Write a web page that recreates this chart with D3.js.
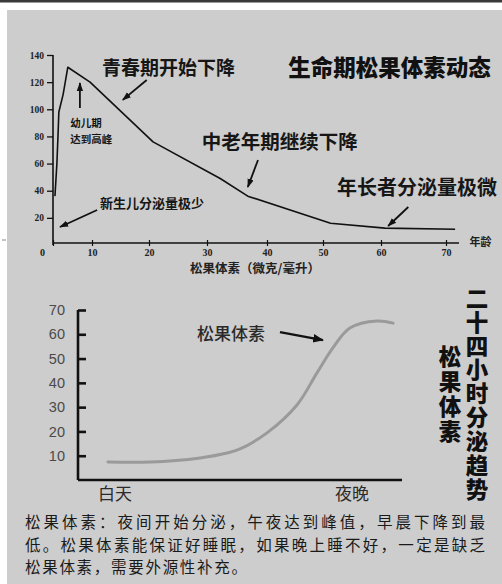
<!DOCTYPE html>
<html><head><meta charset="utf-8">
<script src="https://cdn.jsdelivr.net/npm/d3@7/dist/d3.min.js"></script>
<style>html,body{margin:0;padding:0;background:#fff;}svg{display:block;}</style>
</head><body>
<svg id="c" width="502" height="584"></svg>
<script>
// ---- Data: lifetime melatonin (top chart) ----
const lifeAges   = [0.5, 1.0, 1.3, 1.5, 2.6, 3.8, 9.5, 20.7, 32.2, 36.8, 51.3, 60.6, 71.4];
const lifeValues = [36, 60, 82, 98, 111, 131, 120, 76, 49, 36, 16, 12.4, 11.6];
const lifeXTicks = [0, 10, 20, 30, 40, 50, 60, 70];
const lifeYTicks = [20, 40, 60, 80, 100, 120, 140];
const lifeTitle  = "生命期松果体素动态";
const lifeXLabel = "松果体素（微克/毫升）";
const lifeXUnit  = "年龄";
const lifeNotes  = [
  {text: "青春期开始下降", age: 11.75, val: 129, size: 19},
  {text: "幼儿期", age: 4.4, val: 89, size: 10.5},
  {text: "达到高峰", age: 4.4, val: 77, size: 10.5},
  {text: "中老年期继续下降", age: 29.1, val: 74.4, size: 19.5},
  {text: "年长者分泌量极微", age: 52.4, val: 40.5, size: 20},
  {text: "新生儿分泌量极少", age: 11.4, val: 29.5, size: 13}
];
const lifeArrows = [
  {a0: 19.6, v0: 121.6, a1: 15.4, v1: 106.9},
  {a0: 6.9, v0: 101, a1: 6.9, v1: 119.4},
  {a0: 38.5, v0: 62.6, a1: 36.8, v1: 42.7},
  {a0: 64.2, v0: 28, a1: 61.1, v1: 14},
  {a0: 10.9, v0: 25.8, a1: 1.8, v1: 13.3}
];

// ---- Data: 24-hour secretion (bottom chart) ----
const dayTimes  = [1.11, 2.67, 4.52, 5.52, 6.0, 7.0, 8.11, 8.85, 9.44, 10.07, 11.07, 11.67];
const dayValues = [7.4, 7.4, 9.1, 11.1, 12.8, 19.4, 30.9, 44.1, 54.4, 62.6, 65.5, 64.6];
const dayYTicks = [10, 20, 30, 40, 50, 60, 70];
const dayXLabels = [{text: "白天", t: 1.37}, {text: "夜晚", t: 10.15}];
const dayNote   = {text: "松果体素", t: 4.41, v: 59.7};
const dayArrow  = {t0: 7.48, v0: 60.9, t1: 9.07, v1: 57.6};
const dayTitle1 = "二十四小时分泌趋势";
const dayTitle2 = "松果体素";
const footLines = [
  "松果体素：夜间开始分泌，午夜达到峰值，早晨下降到最",
  "低。松果体素能保证好睡眠，如果晚上睡不好，一定是缺乏",
  "松果体素，需要外源性补充。"
];

const svg = d3.select("#c");
const CJK = "'Noto Sans CJK SC','Noto Sans CJK JP',sans-serif";

// background
svg.append("rect").attr("x",0).attr("y",0).attr("width",502).attr("height",584).attr("fill","#fff");
svg.append("rect").attr("x",0).attr("y",0).attr("width",502).attr("height",2.5).attr("fill","#3a3a3a");
svg.append("rect").attr("x",7).attr("y",10).attr("width",495).attr("height",574).attr("fill","#cdcdcd");
svg.append("line").attr("x1",2).attr("x2",6).attr("y1",240).attr("y2",240).attr("stroke","#888").attr("stroke-width",1);

const defs = svg.append("defs");
defs.append("marker").attr("id","ah").attr("viewBox","0 0 10 10").attr("refX",9).attr("refY",5)
  .attr("markerWidth",5).attr("markerHeight",5).attr("orient","auto")
  .append("path").attr("d","M0,1.5L10,5L0,8.5Z").attr("fill","#111");
defs.append("marker").attr("id","ah2").attr("viewBox","0 0 10 10").attr("refX",9).attr("refY",5)
  .attr("markerWidth",4.5).attr("markerHeight",4.5).attr("orient","auto")
  .append("path").attr("d","M0,1L10,5L0,9Z").attr("fill","#111");

// ================= TOP CHART =================
const xTop = d3.scaleLinear().domain(lifeXTicks).range([53, 92, 149, 207, 267, 323, 381, 446]);
const yTop = d3.scaleLinear().domain([0, 140]).range([245, 55]);
const gTop = svg.append("g");

const yAx = gTop.append("g").attr("transform",`translate(${xTop(0)},0)`)
  .call(d3.axisLeft(yTop).tickValues(lifeYTicks).tickSize(6).tickSizeOuter(0));
yAx.select(".domain").attr("d",`M0,${yTop(0)}V${yTop(140)}`).attr("stroke","#111").attr("stroke-width",1.6);
yAx.selectAll(".tick line").attr("stroke","#111").attr("stroke-width",1.3);
yAx.selectAll(".tick text").attr("font-family","'Liberation Serif',serif").attr("font-weight","bold")
  .attr("font-size",9.5).attr("fill","#222").attr("x",-9);

const xAx = gTop.append("g").attr("transform",`translate(0,${yTop(0)-2})`)
  .call(d3.axisBottom(xTop).tickValues(lifeXTicks).tickSize(0).tickSizeOuter(0));
xAx.select(".domain").attr("d",`M${xTop(0)},0H${xTop(72)}`).attr("stroke","#111").attr("stroke-width",1.6);
xAx.selectAll(".tick").append("line").attr("y1",-3).attr("y2",3).attr("stroke","#111").attr("stroke-width",1.2);
xAx.selectAll(".tick text").attr("font-family","'Liberation Serif',serif").attr("font-weight","bold")
  .attr("font-size",10).attr("fill","#222").attr("y",6)
  .attr("dx", d => d === 0 ? -11 : 0);

gTop.append("text").attr("x",xTop(73.6)).attr("y",yTop(1.5)).attr("dominant-baseline","middle")
  .attr("font-family",CJK).attr("font-weight","bold").attr("font-size",11).attr("fill","#222").text(lifeXUnit);
gTop.append("text").attr("x",255).attr("y",270).attr("text-anchor","middle").attr("dominant-baseline","middle")
  .attr("font-family",CJK).attr("font-weight","bold").attr("font-size",12.5).attr("fill","#222").text(lifeXLabel);

const lifeData = lifeAges.map((a,i) => ({a, v: lifeValues[i]}));
gTop.append("path").datum(lifeData)
  .attr("d", d3.line().x(d => xTop(d.a)).y(d => yTop(d.v)))
  .attr("fill","none").attr("stroke","#111").attr("stroke-width",1.6).attr("stroke-linejoin","round");

gTop.selectAll("text.note").data(lifeNotes).join("text").attr("class","note")
  .attr("x", d => xTop(d.age)).attr("y", d => yTop(d.val)).attr("dominant-baseline","middle")
  .attr("font-family",CJK).attr("font-weight","bold").attr("font-size", d => d.size)
  .attr("fill","#161616").text(d => d.text);
gTop.selectAll("line.arr").data(lifeArrows).join("line").attr("class","arr")
  .attr("x1", d => xTop(d.a0)).attr("y1", d => yTop(d.v0))
  .attr("x2", d => xTop(d.a1)).attr("y2", d => yTop(d.v1))
  .attr("stroke","#111").attr("stroke-width",1.8).attr("marker-end","url(#ah)");

gTop.append("text").attr("x",xTop(43.8)).attr("y",yTop(129)).attr("dominant-baseline","middle")
  .attr("font-family",CJK).attr("font-weight",900).attr("font-size",22.5).attr("fill","#111").text(lifeTitle);

// ================= BOTTOM CHART =================
const xBot = d3.scaleLinear().domain([0, 12]).range([78, 402]);
const yBot = d3.scaleLinear().domain([0, 70]).range([480, 310]);
const gBot = svg.append("g");

const yAx2 = gBot.append("g").attr("transform",`translate(${xBot(0)},0)`)
  .call(d3.axisRight(yBot).tickValues(dayYTicks).tickSize(8).tickSizeOuter(0));
yAx2.select(".domain").attr("d",`M0,${yBot(70)}V${yBot(0)}`).attr("stroke","#111").attr("stroke-width",2.6);
yAx2.selectAll(".tick line").attr("stroke","#111").attr("stroke-width",2.6);
yAx2.selectAll(".tick text").attr("x",-13).attr("text-anchor","end")
  .attr("font-family","'Liberation Sans',Arial,sans-serif").attr("font-size",14.5).attr("fill","#4a4a4a");

gBot.append("line").attr("x1",xBot(0)).attr("x2",xBot(12)).attr("y1",yBot(0)).attr("y2",yBot(0))
  .attr("stroke","#111").attr("stroke-width",2.6);

gBot.selectAll("text.xl").data(dayXLabels).join("text").attr("class","xl")
  .attr("x", d => xBot(d.t)).attr("y",495).attr("text-anchor","middle").attr("dominant-baseline","middle")
  .attr("font-family",CJK).attr("font-size",17).attr("fill","#2a2a2a").text(d => d.text);

const dayData = dayTimes.map((t,i) => ({t, v: dayValues[i]}));
gBot.append("path").datum(dayData)
  .attr("d", d3.line().x(d => xBot(d.t)).y(d => yBot(d.v)).curve(d3.curveCatmullRom))
  .attr("fill","none").attr("stroke","#9a9a9a").attr("stroke-width",3).attr("stroke-linecap","round");

gBot.append("text").attr("x",xBot(dayNote.t)).attr("y",yBot(dayNote.v)).attr("dominant-baseline","middle")
  .attr("font-family",CJK).attr("font-weight",500).attr("font-size",17).attr("fill","#2a2a2a").text(dayNote.text);
gBot.append("line").attr("x1",xBot(dayArrow.t0)).attr("y1",yBot(dayArrow.v0))
  .attr("x2",xBot(dayArrow.t1)).attr("y2",yBot(dayArrow.v1))
  .attr("stroke","#111").attr("stroke-width",2.4).attr("marker-end","url(#ah2)");

// vertical titles (single vertical text each)
gBot.append("text").attr("x",477).attr("y",287)
  .style("writing-mode","vertical-rl").style("letter-spacing","1.4px")
  .attr("font-family",CJK).attr("font-weight",900).attr("font-size",22.5).attr("fill","#111").text(dayTitle1);
gBot.append("text").attr("x",450).attr("y",345.5)
  .style("writing-mode","vertical-rl").style("letter-spacing","2.5px")
  .attr("font-family",CJK).attr("font-weight",900).attr("font-size",22.5).attr("fill","#111").text(dayTitle2);

// footnote
const footY = [524, 547, 569];
svg.selectAll("text.foot").data(footLines).join("text").attr("class","foot")
  .attr("x",25).attr("y",(d,i) => footY[i]).attr("dominant-baseline","middle")
  .attr("font-family",CJK).attr("font-size",15.5).attr("fill","#1a1a1a")
  .attr("textLength",(d,i) => [460, 460, 222][i]).attr("lengthAdjust","spacing")
  .text(d => d);
</script>
</body></html>
